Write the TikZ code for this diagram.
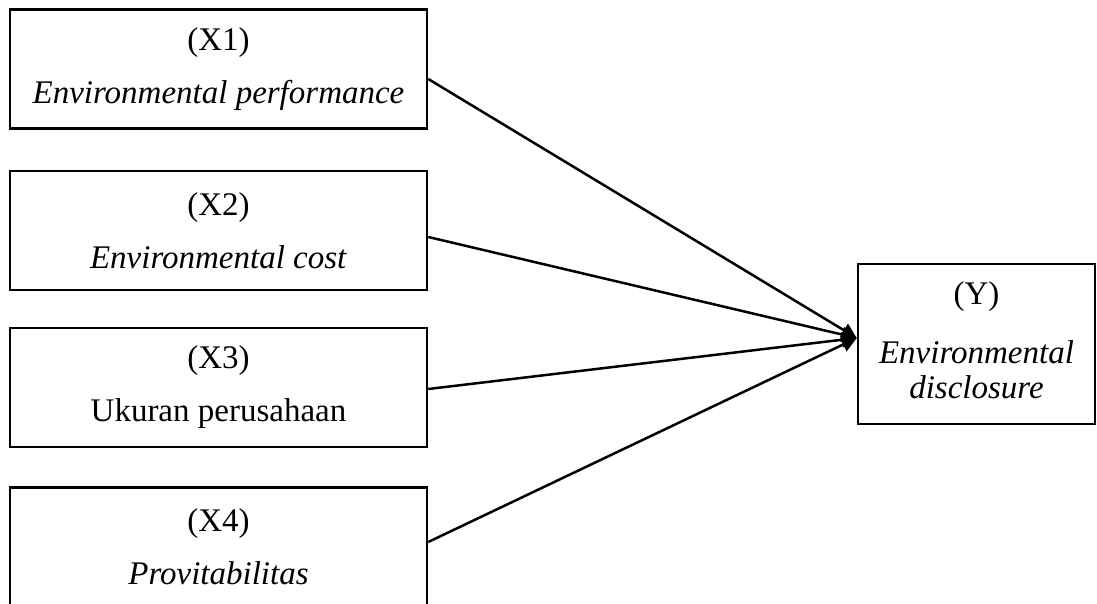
\documentclass[tikz,border=0pt]{standalone}
\usepackage{fontspec}
\setmainfont{Liberation Serif}
\usetikzlibrary{arrows.meta}
\begin{document}
\begin{tikzpicture}[x=1pt, y=-1pt, line width=2.5pt,
    every node/.style={font=\fontsize{33}{40}\selectfont},
    varbox/.style={draw, minimum width=417pt, minimum height=119pt, align=center, inner sep=0pt},
    link/.style={-{Triangle[length=15pt, width=15pt]}}]
  \useasboundingbox (0,0) rectangle (1097,604);
  % independent variables
  \node[varbox] (x1) at (218.5,69) {(X1)\\[13pt]\textit{Environmental performance}};
  \node[varbox] (x2) at (218.5,230.5) {(X2)\\[13pt]\textit{Environmental cost}};
  \node[varbox] (x3) at (218.5,387.5) {(X3)\\[13pt]Ukuran perusahaan};
  \node[varbox] (x4) at (218.5,547) {(X4)\\[13pt]\textit{Provitabilitas}};
  % dependent variable
  \node[varbox, minimum width=237pt, minimum height=160pt] (y) at (976.5,344)
    {(Y)\\[19pt]\textit{Environmental}\\[-5pt]\textit{disclosure}\\[-32pt]\mbox{}};
  \coordinate (tip) at (y.west |- 0,338);
  \draw[link] ([yshift=-10pt]x1.east) -- (tip);
  \draw[link] ([yshift=-6.5pt]x2.east) -- (tip);
  \draw[link] ([yshift=-1.5pt]x3.east) -- (tip);
  \draw[link] ([yshift=5pt]x4.east) -- (tip);
\end{tikzpicture}
\end{document}
